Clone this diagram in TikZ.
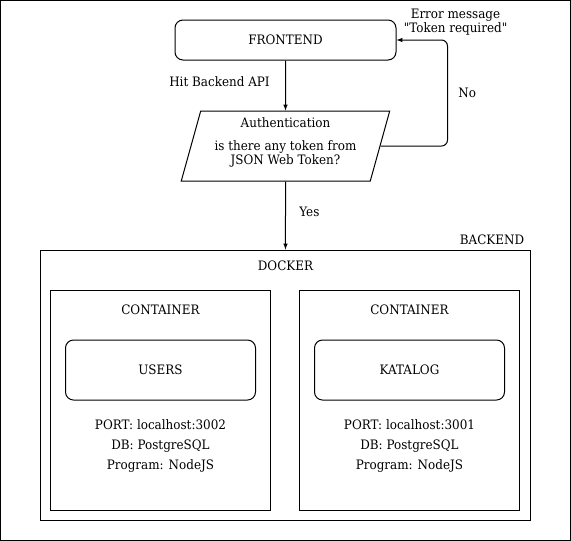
\documentclass[tikz,border=0pt]{standalone}
\usepackage{fontspec}
\newfontfamily\diagfont{DejaVu Serif}[FakeStretch=0.92]
\usetikzlibrary{arrows,positioning,shapes}

\begin{document}
\begin{tikzpicture}[x=1pt,y=-1pt,>=latex,line width=1pt,font=\diagfont\fontsize{13pt}{14pt}\selectfont]
	\tikzstyle{round_box}=[draw, rectangle, rounded corners=8pt, align=center]
	\tikzstyle{rect_b}=[draw, rectangle]
	\tikzstyle{para}=[draw, trapezium, trapezium left angle=75, trapezium right angle=105, trapezium stretches=true, minimum width=209pt, minimum height=70pt, align=center]
	\tikzstyle{info}=[align=center, font=\diagfont\fontsize{13pt}{20pt}\selectfont]

	\useasboundingbox (0,0) rectangle (571,541);
	\draw (0.5,0.5) rectangle (570.5,540.5);

	\node[round_box, minimum width=221pt, minimum height=40pt] (front) at (285.5,40) {FRONTEND};
	\node[para] (auth) [below=50pt of front] {Authentication\\[9pt]is there any token from\\JSON Web Token?\\[-4pt]\mbox{}};

	\node[rect_b, minimum width=490pt, minimum height=270pt] (docker) [below=68pt of auth] {};
	\node (docker_lbl) [below=16pt of docker.north, anchor=center] {DOCKER};
	\node (backend_lbl) at (492,240) {BACKEND};

	\node[rect_b, minimum width=220pt, minimum height=220pt] (cont1) [below right=40pt and 10pt of docker.north west] {};
	\node[rect_b, minimum width=220pt, minimum height=220pt] (cont2) [right=28pt of cont1] {};

	\node (cont1_lbl) [below=20pt of cont1.north, anchor=center] {CONTAINER};
	\node[round_box, minimum width=190pt, minimum height=60pt] (users) [below=50pt of cont1.north] {USERS};
	\node[info] (users_info) [below=45pt of users.south, anchor=center] {PORT: localhost:3002\\DB: PostgreSQL\\Program: NodeJS};

	\node (cont2_lbl) [below=20pt of cont2.north, anchor=center] {CONTAINER};
	\node[round_box, minimum width=190pt, minimum height=60pt] (katalog) [below=50pt of cont2.north] {KATALOG};
	\node[info] (katalog_info) [below=45pt of katalog.south, anchor=center] {PORT: localhost:3001\\DB: PostgreSQL\\Program: NodeJS};

	\draw[->] (front) -- node[left=12pt, yshift=4pt] {Hit Backend API} (auth);
	\draw[->] (auth) -- node[right=10pt, yshift=4pt] {Yes} (docker);
	\draw[->, rounded corners=6pt] (auth.east) -- ++(67,0) |- node[pos=0.25, right=7pt] {No} node[pos=0.5, above=1pt, xshift=8pt, align=center] {Error message\\"Token required"} (front.east);
\end{tikzpicture}
\end{document}
